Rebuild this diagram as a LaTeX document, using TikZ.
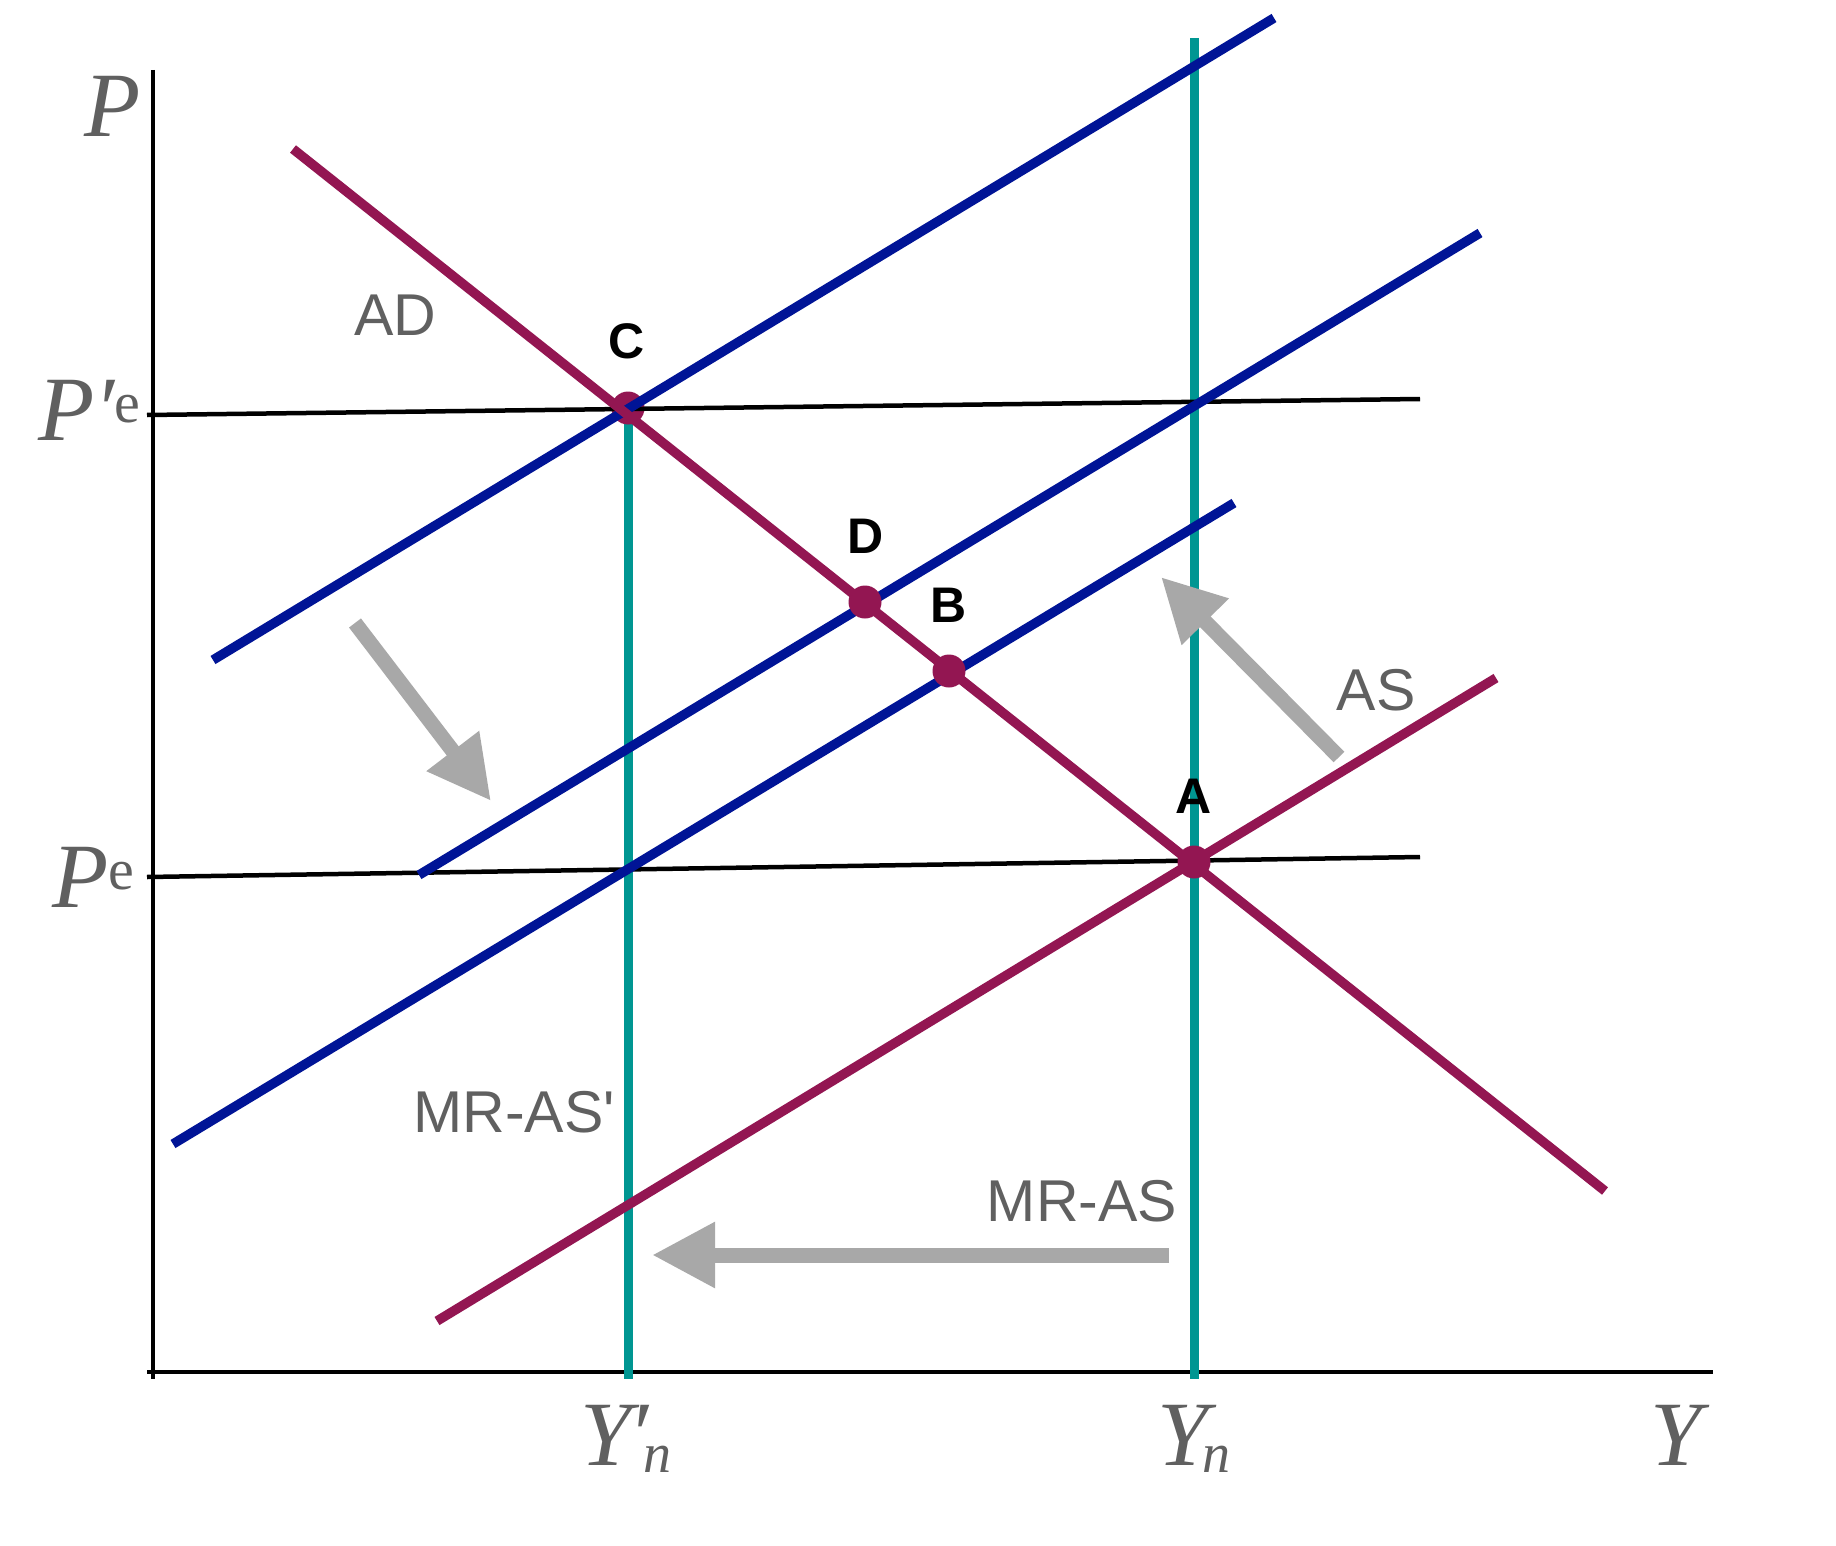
\documentclass[tikz,border=0pt]{standalone}
\usepackage{fontspec}
\setmainfont{Liberation Serif}
\newfontfamily\lsans{Liberation Sans}
\usetikzlibrary{arrows.meta}
\definecolor{cpurple}{RGB}{147,22,82}
\definecolor{cblue}{RGB}{0,20,150}
\definecolor{cteal}{RGB}{0,150,146}
\definecolor{carrow}{RGB}{168,168,168}
\definecolor{ctext}{RGB}{96,96,96}
\newcommand{\bigit}{\fontsize{92}{92}\selectfont\itshape}
\newcommand{\smallup}{\fontsize{58}{58}\selectfont\upshape}
\newcommand{\smallit}{\fontsize{56}{56}\selectfont\itshape}
\begin{document}
\begin{tikzpicture}[x=1pt,y=-1pt,
  axisline/.style={line width=4pt,black},
  level/.style={line width=4.5pt,black},
  vert/.style={line width=9pt,cteal},
  curveblue/.style={line width=9.5pt,cblue},
  curvepurple/.style={line width=9.5pt,cpurple},
  dot/.style={circle,fill=cpurple,minimum size=33pt,inner sep=0pt},
  shiftarrow/.style={line width=15pt,carrow,-{Triangle[length=63pt,width=62pt]}},
  curvelabel/.style={font=\lsans\fontsize{59}{59}\selectfont,text=ctext,inner sep=0pt,anchor=base},
  pointlabel/.style={font=\lsans\bfseries\fontsize{50}{50}\selectfont,text=black,inner sep=0pt,anchor=base},
  axislabel/.style={text=ctext,inner sep=0pt,anchor=base west}
]
\useasboundingbox (0,0) rectangle (1836,1546);
\fill[white] (0,0) rectangle (1836,1546);

% axes
\coordinate (ytop) at (153,70);
\coordinate (ybot) at (153,1379);
\coordinate (xl) at (147,1372);
\coordinate (xr) at (1713,1372);
\draw[axisline] (ytop) -- (ybot);
\draw[axisline] (xl) -- (xr);

% teal verticals
\coordinate (Ynp) at (628,1379);
\coordinate (Cv) at (628,409);
\coordinate (Yn) at (1194,1379);
\coordinate (Ynt) at (1194,38);
\draw[vert] (Cv) -- (Ynp);
\draw[vert] (Ynt) -- (Yn);

% point C (under the lines)
\node[dot] (C) at (628,408) {};

% price expectation levels
\coordinate (Pe1l) at (147,415);
\coordinate (Pe1r) at (1420,399);
\coordinate (Pe0l) at (147,877);
\coordinate (Pe0r) at (1420,857);
\draw[level] (Pe1l) -- (Pe1r);
\draw[level] (Pe0l) -- (Pe0r);

% blue MR-AS curves
\coordinate (ba1) at (213,660);
\coordinate (ba2) at (1274,18);
\coordinate (bb1) at (419,875);
\coordinate (bb2) at (1480,233);
\coordinate (bc1) at (173,1144);
\coordinate (bc2) at (1234,503);
\draw[curveblue] (ba1) -- (ba2);
\draw[curveblue] (bb1) -- (bb2);
\draw[curveblue] (bc1) -- (bc2);

% purple curves
\coordinate (ad1) at (293,149);
\coordinate (ad2) at (1605,1191);
\coordinate (mr1) at (437,1321);
\coordinate (mr2) at (1496,678);
\draw[curvepurple] (ad1) -- (ad2);
\draw[curvepurple] (mr1) -- (mr2);

% points
\node[dot] (D) at (865,602) {};
\node[dot] (B) at (949,671) {};
\node[dot] (A) at (1194,862) {};

% shift arrows
\coordinate (a1s) at (355,623);
\coordinate (a1e) at (491,801);
\coordinate (a2s) at (1339,757);
\coordinate (a2e) at (1161,577);
\coordinate (a3s) at (1169,1255);
\coordinate (a3e) at (652,1255);
\draw[shiftarrow] (a1s) -- (a1e);
\draw[shiftarrow] (a2s) -- (a2e);
\draw[shiftarrow] (a3s) -- (a3e);

% curve labels
\node[curvelabel] (lAD) at (395,335) {AD};
\node[curvelabel] (lMRp) at (514,1132) {MR-AS'};
\node[curvelabel] (lMR) at (1082,1221) {MR-AS};
\node[curvelabel] (lAS) at (1376,710) {AS};

% point labels
\node[pointlabel] (tC) at (627,358) {C};
\node[pointlabel] (tD) at (866,553) {D};
\node[pointlabel] (tB) at (949,622) {B};
\node[pointlabel] (tA) at (1194,813) {A};

% axis labels
\node[axislabel] (lP) at (84,137) {\bigit P};
\node[axislabel] (lPe1) at (38,440) {\bigit P′{\smallup\raisebox{18pt}{e}}};
\node[axislabel] (lPe0) at (52,907) {\bigit P{\smallup\raisebox{18pt}{e}}};
\node[axislabel] (lYnp) at (580,1465) {\bigit Y\kern-3pt\rlap{′}\kern15pt{\smallit\raisebox{-7pt}{n}}};
\node[axislabel] (lYn) at (1157,1465) {\bigit Y\kern-6pt{\smallit\raisebox{-7pt}{n}}};
\node[axislabel] (lY) at (1650,1465) {\bigit Y};
\end{tikzpicture}
\end{document}
